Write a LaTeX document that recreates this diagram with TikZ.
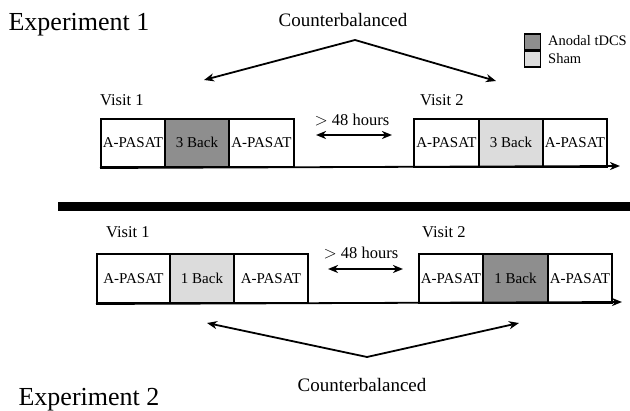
\documentclass[tikz,border=0pt]{standalone}
\usepackage{fontspec}
\setmainfont{Liberation Serif}
\definecolor{tdcsGray}{HTML}{8E8E8E}
\definecolor{shamGray}{HTML}{DCDCDC}
\usetikzlibrary{calc, arrows.meta}

\begin{document}
\begin{tikzpicture}[x=1pt,y=-1pt,
	task/.style={draw=black, line width=2pt, inner sep=0pt, minimum height=48pt, text height=10pt, text depth=0pt, anchor=north, font=\fontsize{15}{17}\selectfont},
	lbl/.style={inner sep=0pt, font=\fontsize{16.5}{19}\selectfont},
	arr/.style={line width=1.8pt, -{Stealth[length=10pt, width=8pt, inset=3pt]}},
	dblarr/.style={line width=1.8pt, {Stealth[length=10pt, width=8pt, inset=3pt]}-{Stealth[length=10pt, width=8pt, inset=3pt]}}]
		\useasboundingbox (0,0) rectangle (630,411);
		% titles
		\node[lbl, font=\fontsize{26}{30}\selectfont] (exp1) at (79,25) {Experiment 1};
		\node[lbl, font=\fontsize{26}{30}\selectfont] (exp2) at (89,400) {Experiment 2};
		\node[lbl, font=\fontsize{19}{22}\selectfont] (cb1) at (343,20) {Counterbalanced};
		\node[lbl, font=\fontsize{19}{22}\selectfont] (cb2) at (362,385) {Counterbalanced};
		% legend
		\node[draw=black, line width=1.6pt, fill=tdcsGray, minimum size=16pt, inner sep=0pt] (legA) at (532.5,42) {};
		\node[draw=black, line width=1.6pt, fill=shamGray, minimum size=16pt, inner sep=0pt] (legS) at (532.5,59) {};
		\node[inner sep=0pt, anchor=west, font=\fontsize{14.5}{16}\selectfont] (legAt) at (548,41) {Anodal tDCS};
		\node[inner sep=0pt, anchor=west, font=\fontsize{14.5}{16}\selectfont] (legSt) at (548,59) {Sham};
		% experiment 1
		\foreach \x/\w/\alph/\name/\col in {
			133/64/a1/A-PASAT/white,
			197/64/a2/3 Back/tdcsGray,
			261.5/65/a3/A-PASAT/white,
			446.5/65/b1/A-PASAT/white,
			511/64/b2/3 Back/shamGray,
			575/64/b3/A-PASAT/white}{
			\node[task, minimum width=\w pt, fill=\col] (\alph) at (\x,118) {\name};
		}
		\node[lbl, anchor=west] (v1a) at (100,100) {Visit 1};
		\node[lbl, anchor=west] (v2a) at (420,100) {Visit 2};
		\node[lbl] (gapa) at (352,120) {$>$ 48 hours};
		% experiment 2
		\foreach \x/\w/\alph/\name/\col in {
			133.5/73/c1/A-PASAT/white,
			202/64/c2/1 Back/shamGray,
			271/74/c3/A-PASAT/white,
			451/64/d1/A-PASAT/white,
			515.5/65/d2/1 Back/tdcsGray,
			580/64/d3/A-PASAT/white}{
			\node[task, minimum width=\w pt, fill=\col, minimum height=49pt] (\alph) at (\x,253) {\name};
		}
		\node[lbl, anchor=west] (v1b) at (106,232) {Visit 1};
		\node[lbl, anchor=west] (v2b) at (422,232) {Visit 2};
		\node[lbl] (gapb) at (361,253) {$>$ 48 hours};
		% separator
		\fill[black] (58,202) rectangle (630,211);
		% time axes
		\coordinate (t1) at (620,166);
		\coordinate (t2) at (622,302);
		\draw[arr] (a1.south west) -- (t1);
		\draw[arr] (c1.south west) -- (t2);
		% gaps between visits
		\coordinate (ga1) at (316,135);
		\coordinate (ga2) at (392,135);
		\coordinate (gb1) at (328,269);
		\coordinate (gb2) at (403,269);
		\draw[dblarr] (ga1) -- (ga2);
		\draw[dblarr] (gb1) -- (gb2);
		% counterbalancing arrows
		\coordinate (cbt) at (355,40);
		\coordinate (cbtl) at (204,80);
		\coordinate (cbtr) at (496,81);
		\coordinate (cbb) at (367,357);
		\coordinate (cbbl) at (207,323);
		\coordinate (cbbr) at (519,323);
		\draw[arr] (cbt) -- (cbtl);
		\draw[arr] (cbt) -- (cbtr);
		\draw[arr] (cbb) -- (cbbl);
		\draw[arr] (cbb) -- (cbbr);
	\end{tikzpicture}
\end{document}
